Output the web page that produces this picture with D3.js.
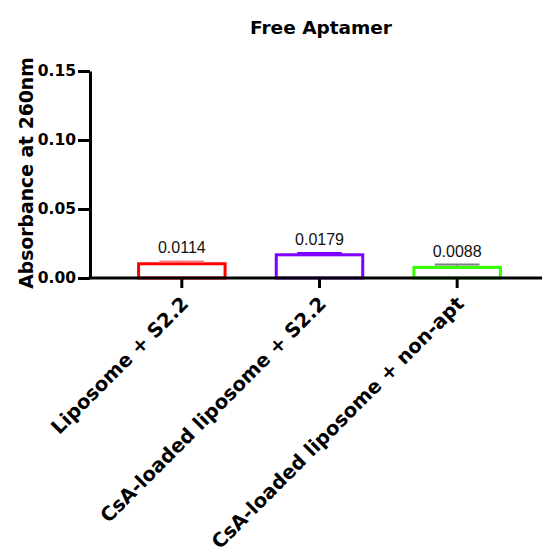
<!DOCTYPE html>
<meta charset="utf-8">
<style>
  body { margin: 0; background: white; }
  svg text { font-family: "DejaVu Sans", sans-serif; }
</style>
<script src="https://d3js.org/d3.v7.min.js"></script>
<div id="chart"></div>
<script>
// data
var groups = ["Liposome + S2.2", "CsA-loaded liposome + S2.2", "CsA-loaded liposome + non-apt"];
var means = [0.0114, 0.0179, 0.0088];
var errors = [0.0006, 0.0003, 0.0009];
var valueLabels = ["0.0114", "0.0179", "0.0088"];
var barColors = ["#ff0000", "#8000ff", "#33ff00"];
var errColors = ["#ff7a7a", "#8000ff", "#808080"];
var yTicks = [0, 0.05, 0.10, 0.15];

var W = 542, H = 550;
var svg = d3.select("#chart").append("svg")
    .attr("width", W).attr("height", H);

var axisX0 = 90, axisY0 = 278;

var x = d3.scaleBand()
    .domain(groups)
    .range([113, 526])
    .paddingInner(0.35)
    .paddingOuter(0.175);

var y = d3.scaleLinear()
    .domain([0, 0.15])
    .range([axisY0, 71]);

var rows = groups.map(function(g, i) {
  return {g: g, v: means[i], e: errors[i], lab: valueLabels[i], c: barColors[i], ec: errColors[i]};
});

// bars (open, coloured outline)
svg.selectAll("rect.bar")
  .data(rows)
  .enter().append("rect")
    .attr("class", "bar")
    .attr("x", function(d) { return x(d.g) + 1.5; })
    .attr("y", function(d) { return y(d.v) + 1.5; })
    .attr("width", x.bandwidth() - 3)
    .attr("height", function(d) { return y(0) - y(d.v) - 1.5; })
    .attr("fill", "white")
    .attr("stroke", function(d) { return d.c; })
    .attr("stroke-width", 3);

// error bars (upper only)
var cap = x.bandwidth() / 2;
var eb = svg.selectAll("g.err").data(rows).enter().append("g").attr("class", "err");
eb.append("line")
    .attr("x1", function(d) { return x(d.g) + x.bandwidth() / 2; })
    .attr("x2", function(d) { return x(d.g) + x.bandwidth() / 2; })
    .attr("y1", function(d) { return y(d.v); })
    .attr("y2", function(d) { return y(d.v + d.e); })
    .attr("stroke", "#555").attr("stroke-width", 1.5);
eb.append("line")
    .attr("x1", function(d) { return x(d.g) + x.bandwidth() / 2 - cap / 2; })
    .attr("x2", function(d) { return x(d.g) + x.bandwidth() / 2 + cap / 2; })
    .attr("y1", function(d) { return y(d.v + d.e); })
    .attr("y2", function(d) { return y(d.v + d.e); })
    .attr("stroke", function(d) { return d.ec; })
    .attr("stroke-width", 2);

// value labels
svg.selectAll("text.val")
  .data(rows)
  .enter().append("text")
    .attr("class", "val")
    .attr("x", function(d) { return x(d.g) + x.bandwidth() / 2; })
    .attr("y", function(d) { return y(d.v + d.e) - 8; })
    .attr("text-anchor", "middle")
    .style("font-family", "'Liberation Sans', Arial, sans-serif")
    .style("font-size", "16px")
    .attr("fill", "#111")
    .text(function(d) { return d.lab; });

// y axis
var yAxis = svg.append("g")
    .attr("transform", "translate(" + axisX0 + ",0)")
    .call(d3.axisLeft(y).tickValues(yTicks).tickFormat(d3.format(".2f"))
          .tickSize(12).tickSizeOuter(0).tickPadding(2));
yAxis.select(".domain").attr("stroke-width", 3);
yAxis.selectAll(".tick line").attr("stroke-width", 3);
yAxis.selectAll(".tick text")
    .style("font-size", "15.5px").style("font-weight", "bold")
    .attr("fill", "#000");

// x axis
var xAxis = svg.append("g")
    .attr("transform", "translate(0," + axisY0 + ")")
    .call(d3.axisBottom(x).tickSize(10).tickSizeOuter(0));
xAxis.select(".domain").remove();
xAxis.selectAll(".tick line").attr("stroke-width", 3);
xAxis.selectAll(".tick text")
    .attr("text-anchor", "end")
    .attr("transform", "translate(3,22) rotate(-45)")
    .attr("x", 0).attr("y", 0).attr("dy", "0.35em")
    .style("font-size", "19.6px").style("font-weight", "bold")
    .attr("fill", "#000");
svg.append("line")
    .attr("x1", axisX0 - 1.5).attr("x2", W)
    .attr("y1", axisY0).attr("y2", axisY0)
    .attr("stroke", "#000").attr("stroke-width", 3);

// titles
svg.append("text")
    .attr("x", 321).attr("y", 34)
    .attr("text-anchor", "middle")
    .style("font-size", "18.5px").style("font-weight", "bold")
    .text("Free Aptamer");

svg.append("text")
    .attr("transform", "translate(33,173) rotate(-90)")
    .attr("text-anchor", "middle")
    .style("font-size", "18.8px").style("font-weight", "bold")
    .text("Absorbance at 260nm");
</script>
